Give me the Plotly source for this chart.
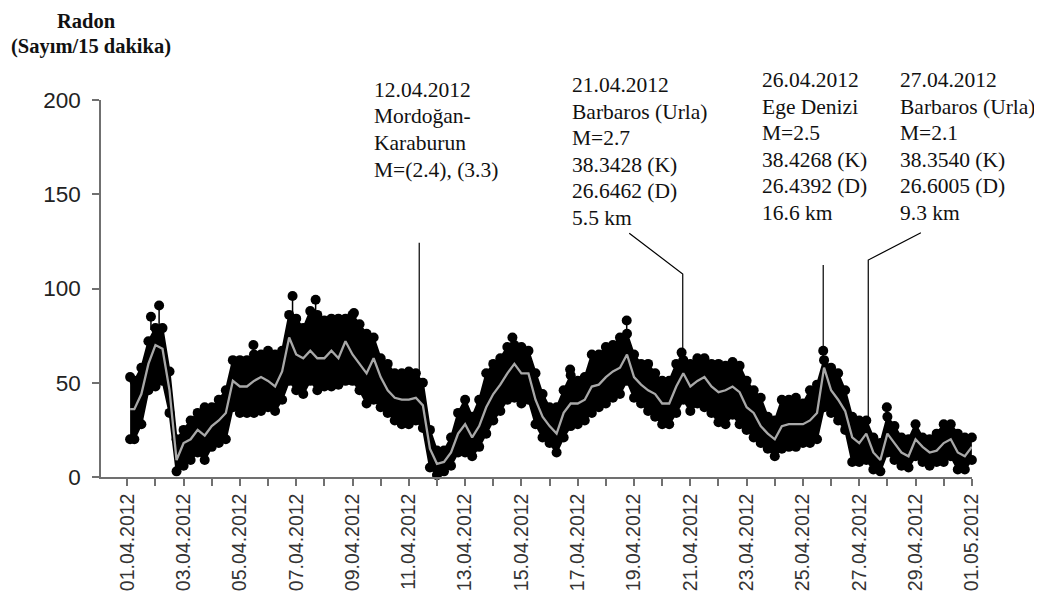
import pandas as pd
import plotly.graph_objects as go

# ---------------- data ----------------
# sample times in days after 01.04.2012 00:00 (first sample, then every 6 h)
T_DAYS = [0.1] + [0.25 * k for k in range(1, 121)]

UPPER = [53, 51, 58, 72, 79,
         79, 56, 20, 25,
         30, 34, 37, 37,
         41, 46, 62, 62,
         62, 65, 65, 67,
         65, 67, 86, 84,
         79, 88, 86, 83,
         84, 84, 84, 86,
         81, 76, 74, 63,
         60, 55, 55, 56,
         55, 50, 25, 14,
         14, 21, 34, 41,
         32, 41, 55, 60,
         63, 69, 70, 69,
         67, 55, 44, 37,
         37, 46, 54, 51,
         53, 65, 65, 69,
         70, 74, 76, 65,
         60, 60, 55, 51,
         51, 60, 62, 60,
         63, 63, 60, 60,
         59, 61, 59, 51,
         46, 42, 32, 30,
         41, 41, 42, 39,
         46, 49, 62, 58,
         55, 46, 32, 30,
         30, 21, 18, 32,
         27, 21, 20, 28,
         21, 20, 23, 28,
         28, 23, 21, 21]

MEAN = [36, 36, 44, 60, 70,
        68, 46, 9, 18,
        20, 25, 22, 27,
        30, 34, 51, 48,
        48, 51, 53, 51,
        48, 56, 74, 65,
        63, 67, 63, 63,
        67, 63, 72, 65,
        60, 55, 63, 53,
        46, 42, 41, 41,
        42, 38, 15, 7,
        8, 13, 23, 28,
        21, 27, 37, 44,
        49, 55, 60, 55,
        55, 41, 32, 27,
        23, 34, 39, 39,
        41, 48, 49, 53,
        56, 58, 65, 53,
        49, 46, 44, 39,
        39, 48, 55, 48,
        51, 53, 48, 45,
        46, 48, 45, 37,
        34, 27, 23, 20,
        27, 28, 28, 28,
        30, 34, 58, 46,
        41, 35, 21, 18,
        23, 13, 9, 23,
        18, 13, 11, 20,
        16, 13, 14, 18,
        20, 13, 11, 16]

LOWER = [20, 20, 28, 46, 48,
         51, 34, 3, 6,
         9, 13, 9, 16,
         18, 20, 37, 34,
         34, 34, 35, 37,
         35, 41, 51, 46,
         44, 51, 46, 48,
         48, 49, 51, 51,
         46, 39, 41, 37,
         34, 30, 28, 28,
         30, 26, 5, 1,
         3, 6, 13, 13,
         11, 16, 23, 30,
         35, 41, 42, 39,
         41, 28, 21, 18,
         13, 21, 27, 28,
         30, 34, 37, 39,
         42, 44, 51, 42,
         39, 35, 32, 28,
         28, 34, 41, 35,
         39, 37, 34, 29,
         28, 33, 28, 25,
         21, 18, 15, 11,
         15, 16, 16, 18,
         18, 20, 37, 34,
         30, 25, 8, 8,
         9, 4, 3, 13,
         9, 6, 5, 11,
         8, 6, 8, 8,
         11, 4, 4, 9]

# isolated high readings (peak, and where their stem meets the cloud)
SPIKE_T = [0.84, 1.13, 4.48, 5.87, 6.69, 8.05, 13.68, 15.73, 17.74, 19.69, 24.72, 26.98]
SPIKE_V = [85, 91, 70, 96, 94, 87, 74, 57, 83, 66, 67, 37]
SPIKE_BASE = [78, 80, 63, 86, 85, 83, 69, 50, 76, 60, 62, 30]

TICK_DAYS = list(range(0, 31, 2))
TICK_LABELS = ["01.04.2012", "03.04.2012", "05.04.2012", "07.04.2012",
               "09.04.2012", "11.04.2012", "13.04.2012", "15.04.2012",
               "17.04.2012", "19.04.2012", "21.04.2012", "23.04.2012",
               "25.04.2012", "27.04.2012", "29.04.2012", "01.05.2012"]
Y_TICKS = [0, 50, 100, 150, 200]

EVENT_TEXTS = [
    ["12.04.2012", "Mordoğan-", "Karaburun", "M=(2.4), (3.3)"],
    ["21.04.2012", "Barbaros (Urla)", "M=2.7", "38.3428 (K)", "26.6462 (D)", "5.5 km"],
    ["26.04.2012", "Ege Denizi", "M=2.5", "38.4268 (K)", "26.4392 (D)", "16.6 km"],
    ["27.04.2012", "Barbaros (Urla)", "M=2.1", "38.3540 (K)", "26.6005 (D)", "9.3 km"],
]
# leader lines: (day, value) vertices
EVENT_LINES = [
    [(10.37, 124.3), (10.37, 45)],
    [(17.83, 129.3), (19.73, 107.7), (19.73, 55)],
    [(24.72, 112.5), (24.72, 55)],
    [(28.19, 129.6), (26.32, 115.1), (26.32, 25)],
]

# ---------------- figure ----------------
BASE = pd.Timestamp("2012-04-01")


def to_date(days):
    return [BASE + pd.to_timedelta(d, unit="D") for d in days]


X = to_date(T_DAYS)
fig = go.Figure()

# leader lines (under the data)
for pts in EVENT_LINES:
    fig.add_trace(go.Scatter(
        x=to_date([p[0] for p in pts]), y=[p[1] for p in pts],
        mode="lines", line=dict(color="black", width=1.2),
        hoverinfo="skip", showlegend=False))

# black cloud of raw readings
fig.add_trace(go.Scatter(x=X, y=LOWER, mode="lines",
                         line=dict(color="black", width=2),
                         hoverinfo="skip", showlegend=False))
fig.add_trace(go.Scatter(x=X, y=UPPER, mode="lines", fill="tonexty",
                         fillcolor="black", line=dict(color="black", width=2),
                         hoverinfo="skip", showlegend=False))
fig.add_trace(go.Scatter(x=X + X, y=UPPER + LOWER, mode="markers",
                         marker=dict(color="black", size=10),
                         cliponaxis=False, hoverinfo="skip", showlegend=False))

# spikes with stems
sx, sy = [], []
for t, v, b in zip(SPIKE_T, SPIKE_V, SPIKE_BASE):
    d = to_date([t])[0]
    sx += [d, d, None]
    sy += [v, b, None]
fig.add_trace(go.Scatter(x=sx, y=sy, mode="lines",
                         line=dict(color="black", width=1.5),
                         hoverinfo="skip", showlegend=False))
fig.add_trace(go.Scatter(x=to_date(SPIKE_T), y=SPIKE_V, mode="markers",
                         marker=dict(color="black", size=10),
                         hoverinfo="skip", showlegend=False))

# grey mean line
fig.add_trace(go.Scatter(x=X, y=MEAN, mode="lines",
                         line=dict(color="#a8a8a8", width=2.3),
                         hoverinfo="skip", showlegend=False))

# ---------------- layout ----------------
OFF = 8  # page body margin of the browser
W, H = 1042, 601
SCR_L, SCR_R, SCR_T, SCR_B = 101, 972, 100, 477   # plot area on screen
L, T = SCR_L - OFF, SCR_T - OFF
R, B = W - (SCR_R - OFF), H - (SCR_B - OFF)
PW, PH = SCR_R - SCR_L, SCR_B - SCR_T


def px_x(p):
    return (p - SCR_L) / PW


def px_y(p):
    return (SCR_B - p) / PH


TITLE_FONT = dict(family="Liberation Serif", size=20.5, color="#111")
annotations = [
    dict(text="<b>Radon</b>", x=px_x(86), y=px_y(21), xref="paper", yref="paper",
         xanchor="center", yanchor="middle", showarrow=False, font=TITLE_FONT),
    dict(text="<b>(Sayım/15 dakika)</b>", x=px_x(91), y=px_y(46), xref="paper",
         yref="paper", xanchor="center", yanchor="middle", showarrow=False,
         font=TITLE_FONT),
]
EVENT_POS = [(372, 90), (570, 85), (760, 80), (898, 80)]   # left x, first line centre y
LINE_GAP = 26.5
for lines, (ex, ey) in zip(EVENT_TEXTS, EVENT_POS):
    for i, txt in enumerate(lines):
        annotations.append(dict(
            text=txt, x=px_x(ex), y=px_y(ey + i * LINE_GAP), xref="paper",
            yref="paper", xanchor="left", yanchor="middle", align="left",
            showarrow=False,
            font=dict(family="Liberation Serif", size=21.5, color="#111")))

fig.update_layout(
    width=W, height=H,
    margin=dict(l=L, r=R, t=T, b=B, pad=0),
    paper_bgcolor="white", plot_bgcolor="white",
    showlegend=False,
    annotations=annotations,
    xaxis=dict(
        type="date",
        range=[BASE - pd.to_timedelta(0.934, unit="D"),
               BASE + pd.to_timedelta(30.005, unit="D")],
        tickvals=to_date(TICK_DAYS), ticktext=TICK_LABELS,
        tickangle=-90, ticks="outside", ticklen=7, tickwidth=1.5,
        tickcolor="#707070",
        minor=dict(ticks="outside", ticklen=7, tickwidth=1.5, tickcolor="#707070",
                   tickvals=to_date(list(range(1, 30, 2)))),
        showline=True, linecolor="#707070", linewidth=1.5,
        showgrid=False, zeroline=False,
        tickfont=dict(family="Liberation Sans", size=19.5, color="#333"),
    ),
    yaxis=dict(
        range=[0, 200], tickvals=Y_TICKS,
        ticks="outside", ticklen=7, tickwidth=1.5, tickcolor="#707070",
        showline=True, linecolor="#707070", linewidth=1.5,
        showgrid=False, zeroline=False,
        ticklabelstandoff=7,
        tickfont=dict(family="Liberation Sans", size=22.5, color="#222"),
    ),
)

fig.write_html("out.html")
